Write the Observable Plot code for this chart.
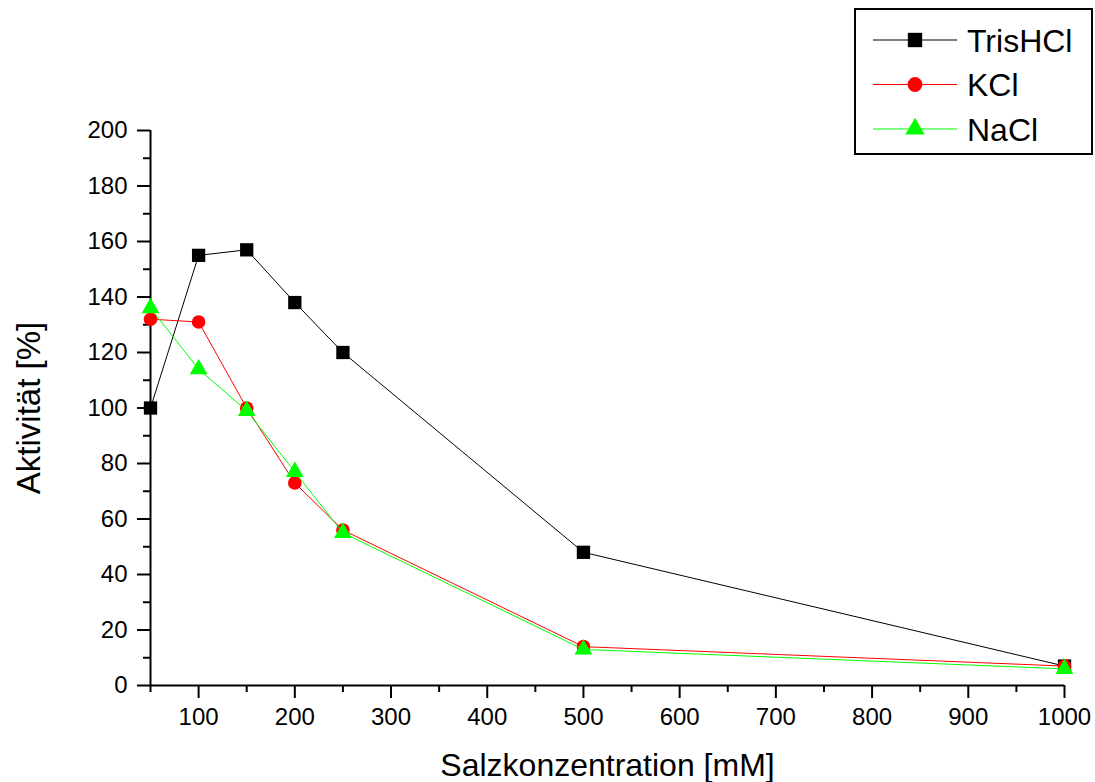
<!DOCTYPE html>
<html>
<head>
<meta charset="utf-8">
<script src="https://cdn.jsdelivr.net/npm/d3@7"></script>
<script src="https://cdn.jsdelivr.net/npm/@observablehq/plot@0.6"></script>
<style>
  html, body { margin: 0; padding: 0; background: #fff; }
  #wrap { position: relative; width: 1095px; height: 782px; }
  #legend { position: absolute; left: 854px; top: 8px; }
</style>
</head>
<body>
<div id="wrap"><div id="chart"></div><div id="legend"></div></div>
<script>
const concentrations = [50, 100, 150, 200, 250, 500, 1000];
const trisHCl = [100, 155, 157, 138, 120, 48, 7];
const kCl = [132, 131, 100, 73, 56, 14, 7];
const naCl = [136, 114, 99, 77, 55, 13, 6];
const seriesNames = ["TrisHCl", "KCl", "NaCl"];
const seriesColors = ["#000000", "#ff0000", "#00ff00"];
const seriesSymbols = ["square", "circle", "triangle"];
const seriesR = [7.5, 6.8, 6.6];
const xMajor = [100, 200, 300, 400, 500, 600, 700, 800, 900, 1000];
const xMinor = [50, 150, 250, 350, 450, 550, 650, 750, 850, 950];
const yMajor = [0, 20, 40, 60, 80, 100, 120, 140, 160, 180, 200];
const yMinor = [10, 30, 50, 70, 90, 110, 130, 150, 170, 190];
const xTitle = "Salzkonzentration [mM]";
const yTitle = "Aktivität [%]";

const seriesValues = [trisHCl, kCl, naCl];
const font = "'Liberation Sans', Arial, Helvetica, sans-serif";

const marks = [];
seriesValues.forEach((vals, i) => {
  const rows = concentrations.map((c, j) => ({x: c, y: vals[j]}));
  marks.push(Plot.line(rows, {x: "x", y: "y", stroke: seriesColors[i], strokeWidth: 1}));
  marks.push(Plot.dot(rows, {x: "x", y: "y", symbol: seriesSymbols[i], r: seriesR[i], fill: seriesColors[i], stroke: "none"}));
});

const chart = Plot.plot({
  width: 1095,
  height: 782,
  marginLeft: 150,
  marginRight: 31,
  marginTop: 130,
  marginBottom: 97,
  style: {fontFamily: font, background: "#fff", overflow: "visible"},
  x: {domain: [50, 1000], axis: null},
  y: {domain: [0, 200], axis: null},
  marks: [
    Plot.axisX({ticks: xMajor, tickSize: 13, tickPadding: 9, fontSize: 24, strokeWidth: 2, stroke: "#000", fill: "#000", label: null, tickFormat: d => String(d)}),
    Plot.axisX({ticks: xMinor, tickSize: 7, strokeWidth: 2, stroke: "#000", tickFormat: () => "", label: null}),
    Plot.axisY({ticks: yMajor, tickSize: 13, tickPadding: 10, fontSize: 24, strokeWidth: 2, stroke: "#000", fill: "#000", label: null, tickFormat: d => String(d)}),
    Plot.axisY({ticks: yMinor, tickSize: 7, strokeWidth: 2, stroke: "#000", tickFormat: () => "", label: null}),
    Plot.ruleY([0], {stroke: "#000", strokeWidth: 2}),
    Plot.ruleX([50], {stroke: "#000", strokeWidth: 2}),
    ...marks,
    Plot.text([xTitle], {frameAnchor: "bottom", dy: 80, fontSize: 32, fill: "#000", lineAnchor: "middle", textAnchor: "middle"}),
    Plot.text([yTitle], {frameAnchor: "left", dx: -121, rotate: -90, fontSize: 33, fill: "#000", lineAnchor: "middle", textAnchor: "middle"})
  ]
});
document.getElementById("chart").appendChild(chart);

// Legend
const lw = 239, lh = 147;
const lsvg = d3.select("#legend").append("svg").attr("width", lw).attr("height", lh)
  .style("font-family", font);
lsvg.append("rect").attr("x", 1).attr("y", 1).attr("width", lw - 2).attr("height", lh - 2)
  .attr("fill", "#fff").attr("stroke", "#000").attr("stroke-width", 2);
const symMap = {square: d3.symbolSquare, circle: d3.symbolCircle, triangle: d3.symbolTriangle};
seriesNames.forEach((name, i) => {
  const cy = 32 + i * 44.5;
  const g = lsvg.append("g");
  g.append("line").attr("x1", 19).attr("x2", 103).attr("y1", cy).attr("y2", cy)
    .attr("stroke", seriesColors[i]).attr("stroke-width", 1.2);
  const r = seriesR[i] + 0.6;
  g.append("path").attr("d", d3.symbol(symMap[seriesSymbols[i]], Math.PI * r * r)())
    .attr("transform", `translate(61,${cy})`).attr("fill", seriesColors[i]);
  g.append("text").attr("x", 113).attr("y", cy).attr("dy", "0.36em")
    .attr("font-size", 32).attr("fill", "#000").text(name);
});
</script>
</body>
</html>
